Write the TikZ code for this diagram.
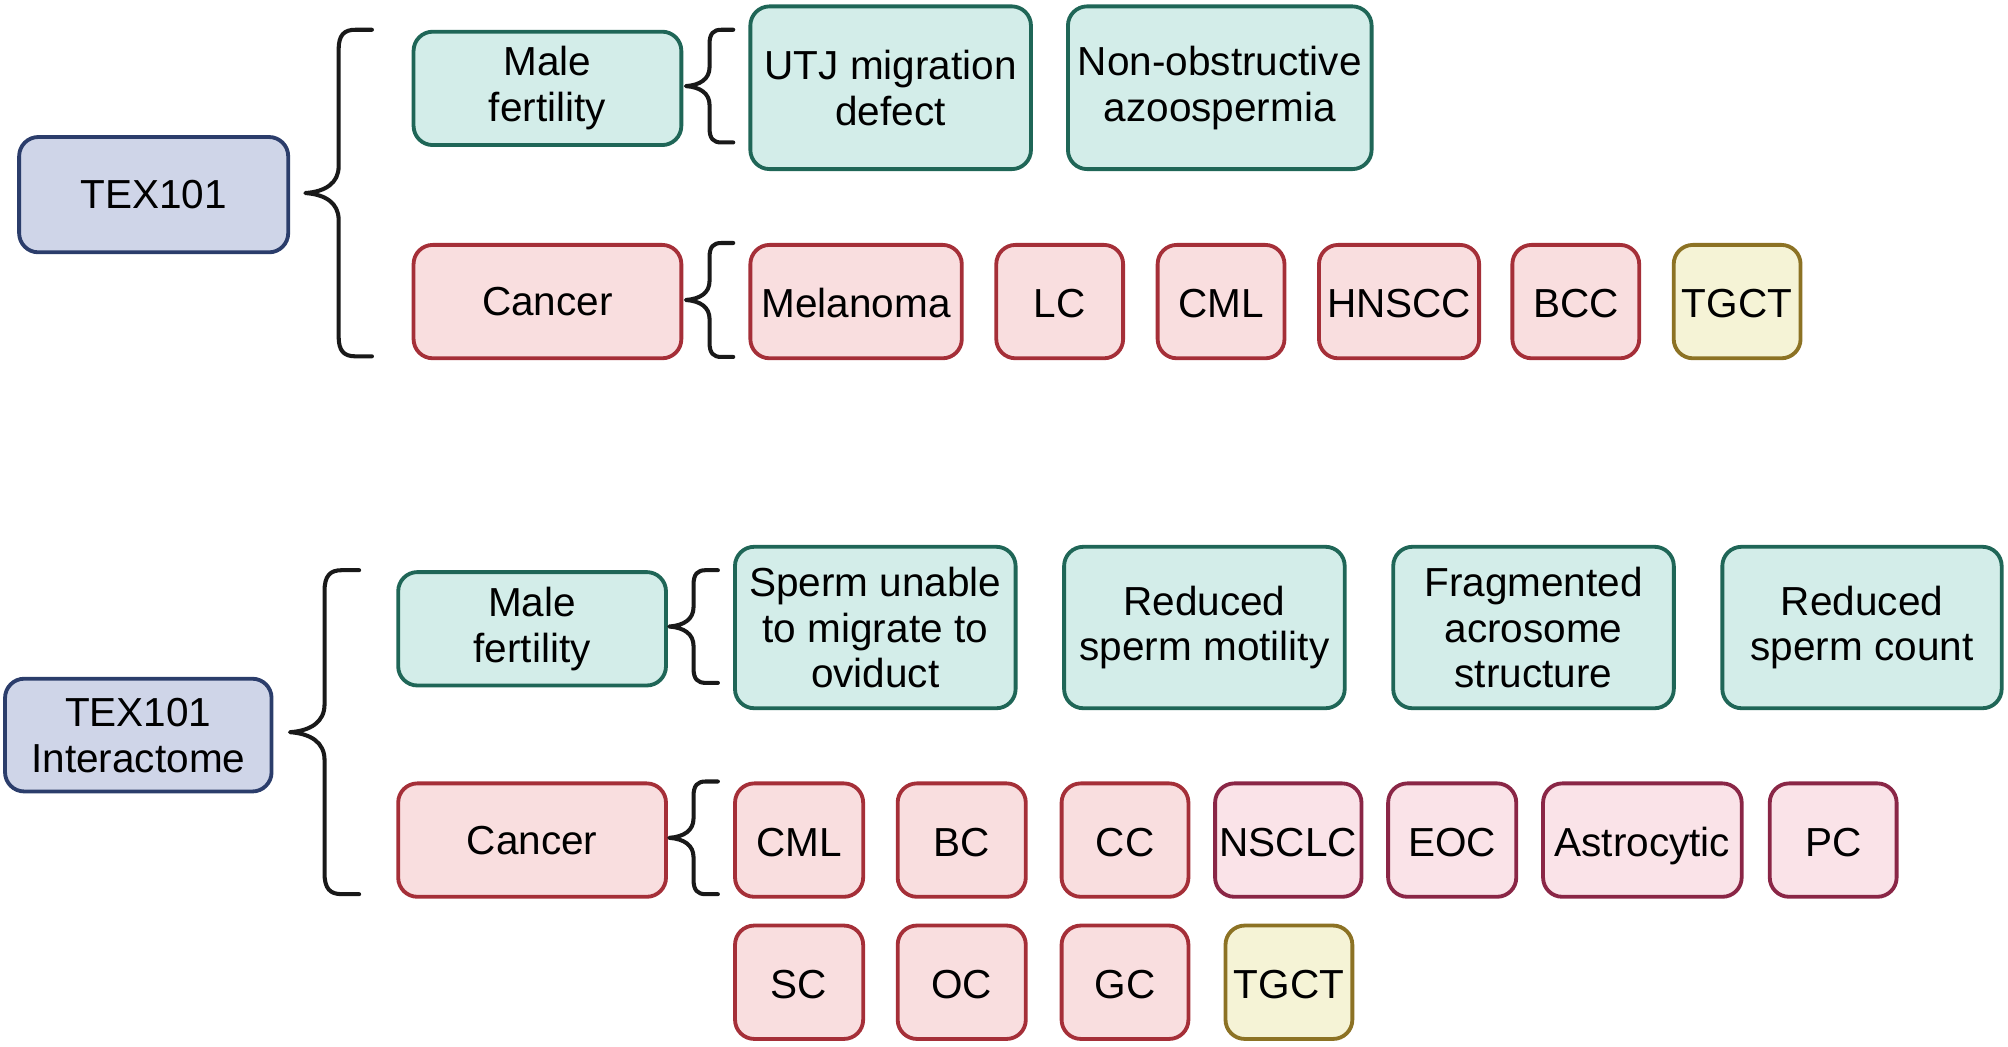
\documentclass[tikz,border=0pt]{standalone}
\usepackage{fontspec}
\setmainfont{Liberation Sans}
\definecolor{rootfill}{HTML}{CFD5E8}
\definecolor{rootline}{HTML}{2B3D6B}
\definecolor{fertfill}{HTML}{D3EDE9}
\definecolor{fertline}{HTML}{1F6657}
\definecolor{canfill}{HTML}{F9DEDF}
\definecolor{canline}{HTML}{A52F38}
\definecolor{pinkfill}{HTML}{FAE3E8}
\definecolor{pinkline}{HTML}{8A2646}
\definecolor{tgctfill}{HTML}{F5F3D6}
\definecolor{tgctline}{HTML}{8C7224}
\begin{document}
\begin{tikzpicture}[x=0.01cm,y=-0.01cm,
    box/.style={draw,rounded corners=0.15cm,line width=0.85pt,align=center,
      inner sep=1pt,font=\fontsize{9}{10.2}\selectfont},
    rootbox/.style={box,fill=rootfill,draw=rootline},
    fertbox/.style={box,fill=fertfill,draw=fertline},
    canbox/.style={box,fill=canfill,draw=canline},
    pinkbox/.style={box,fill=pinkfill,draw=pinkline},
    tgctbox/.style={box,fill=tgctfill,draw=tgctline},
    mid/.style={minimum width=2.09cm,minimum height=0.885cm},
    big/.style={minimum width=2.19cm,minimum height=1.27cm},
    small/.style={minimum width=0.99cm,minimum height=0.885cm,text height=0.72em,text depth=0em},
    bracel/.style={line width=0.9pt,draw=black!90,line cap=round,line join=round},
    pics/lbrace/.style 2 args={code={
      \draw[bracel] (0,0) -- ({-0.25*#2},0)
        .. controls ({-0.42*#2},0) and ({-0.5*#2},{0.08*#2}) .. ({-0.5*#2},{0.3*#2})
        -- ({-0.5*#2},{0.5*#1-0.4*#2})
        .. controls ({-0.5*#2},{0.5*#1-0.15*#2}) and ({-0.7*#2},{0.5*#1-0.02*#2}) .. ({-#2},{0.5*#1})
        .. controls ({-0.7*#2},{0.5*#1+0.02*#2}) and ({-0.5*#2},{0.5*#1+0.15*#2}) .. ({-0.5*#2},{0.5*#1+0.4*#2})
        -- ({-0.5*#2},{#1-0.3*#2})
        .. controls ({-0.5*#2},{#1-0.08*#2}) and ({-0.42*#2},#1) .. ({-0.25*#2},#1)
        -- (0,#1);
    }}]
  \useasboundingbox (0,0) rectangle (1568,817);

  % TEX101
  \node[rootbox,minimum width=2.10cm,minimum height=0.90cm] (root1) at (120,152) {TEX101};
  \node[fertbox,mid] (mf1) at (427.5,69) {Male\\fertility};
  \node[canbox,mid] (ca1) at (427.5,235.5) {Cancer};
  \node[fertbox,big] (utj) at (695.5,68.5) {UTJ migration\\defect};
  \node[fertbox,big,minimum width=2.37cm] (noa) at (952.5,68.5) {Non-obstructive\\azoospermia};
  \node[canbox,small,minimum width=1.65cm] (mel) at (668.5,235.5) {Melanoma};
  \node[canbox,small] (lc) at (827.5,235.5) {LC};
  \node[canbox,small] (cmla) at (953.5,235.5) {CML};
  \node[canbox,small,minimum width=1.25cm] (hnscc) at (1092.5,235.5) {HNSCC};
  \node[canbox,small] (bcc) at (1230.5,235.5) {BCC};
  \node[tgctbox,small] (tgcta) at (1356.5,235.5) {TGCT};
  \pic at ([xshift=-0.31cm]mf1.north west) {lbrace={255}{52}};
  \pic at ([xshift=0.39cm]mf1.north east) {lbrace={88}{37}};
  \pic at ([xshift=0.39cm]ca1.north east) {lbrace={89}{37}};

  % TEX101 interactome
  \node[rootbox,minimum width=2.08cm,minimum height=0.88cm] (root2) at (108,574) {TEX101\\Interactome};
  \node[fertbox,mid] (mf2) at (415.5,491) {Male\\fertility};
  \node[canbox,mid] (ca2) at (415.5,656) {Cancer};
  \node[fertbox,big,minimum height=1.26cm] (sperm) at (683.5,490) {Sperm unable\\to migrate to\\oviduct};
  \node[fertbox,big,minimum height=1.26cm] (rsm) at (940.5,490) {Reduced\\sperm motility};
  \node[fertbox,big,minimum height=1.26cm] (fas) at (1197.5,490) {Fragmented\\acrosome\\structure};
  \node[fertbox,big,minimum height=1.26cm,minimum width=2.18cm] (rsc) at (1454,490) {Reduced\\sperm count};
  \node[canbox,small,minimum width=1.00cm] (cmlb) at (624,656) {CML};
  \node[canbox,small,minimum width=1.00cm] (bc) at (751,656) {BC};
  \node[canbox,small] (cc) at (878.5,656) {CC};
  \node[pinkbox,small,minimum width=1.14cm] (nsclc) at (1006,656) {NSCLC};
  \node[pinkbox,small,minimum width=1.00cm] (eoc) at (1134,656) {EOC};
  \node[pinkbox,small,minimum width=1.55cm] (astro) at (1282.5,656) {Astrocytic};
  \node[pinkbox,small] (pc) at (1431.5,656) {PC};
  \node[canbox,small,minimum width=1.00cm] (sc) at (624,767) {SC};
  \node[canbox,small,minimum width=1.00cm] (oc) at (751,767) {OC};
  \node[canbox,small] (gc) at (878.5,767) {GC};
  \node[tgctbox,small] (tgctb) at (1006.5,767) {TGCT};
  \pic at ([xshift=-0.29cm]mf2.north west) {lbrace={253}{54}};
  \pic at ([xshift=0.39cm]mf2.north east) {lbrace={88}{38}};
  \pic at ([xshift=0.39cm]ca2.north east) {lbrace={88}{38}};
\end{tikzpicture}
\end{document}
